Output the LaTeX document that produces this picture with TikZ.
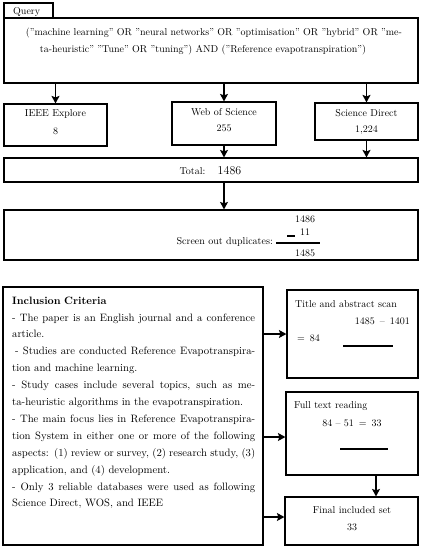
\documentclass[tikz,border=0pt]{standalone}
\usepackage{fontspec}
\usetikzlibrary{arrows.meta,calc}
\newcommand{\incline}[1]{\leavevmode{\spaceskip=0.33em plus 2em minus 0.12em\relax\hbox to 243pt{#1}}}
\begin{document}
\begin{tikzpicture}[x=1pt,y=-1pt,
  box/.style={draw=black, line width=1.2pt, inner sep=0pt},
  lbl/.style={inner sep=0pt, font=\fontsize{10}{12}\selectfont},
  arr/.style={line width=1.3pt, -{Stealth[length=7.5pt,width=8pt,inset=1.5pt]}},
  rulel/.style={line width=1.2pt}]
\useasboundingbox (0,0) rectangle (422,550);
% boxes
\node[box, minimum width=49pt, minimum height=15pt] (ql) at (28.5,10.5) {};
\node[box, minimum width=414pt, minimum height=65pt] (q) at (211,50.5) {};
\node[box, minimum width=103pt, minimum height=42pt] (ieee) at (55.5,125) {};
\node[box, minimum width=104pt, minimum height=43pt] (wos) at (224,123.5) {};
\node[box, minimum width=103pt, minimum height=37pt] (sd) at (366.5,121.5) {};
\node[box, minimum width=414pt, minimum height=24pt] (total) at (211,170) {};
\node[box, minimum width=414pt, minimum height=50pt] (dup) at (211,235) {};
\node[box, minimum width=260pt, minimum height=258pt] (inc) at (133,416) {};
\node[box, minimum width=131pt, minimum height=88pt] (title) at (352.5,334) {};
\node[box, minimum width=132pt, minimum height=83pt] (full) at (352,433.5) {};
\node[box, minimum width=133pt, minimum height=48pt] (final) at (351.5,521) {};
% texts
\node[lbl, anchor=west] (qt) at (13,12) {Query};
\node[lbl] (q1) at (214,33) {("machine learning" OR "neural networks" OR "optimisation" OR "hybrid" OR "me-};
\node[lbl] (q2) at (203,50) {ta-heuristic" "Tune" OR "tuning") AND ("Reference evapotranspiration")};
\node[lbl] (ieeet) at (55.5,114) {IEEE Explore};
\node[lbl] (ieeen) at (55.5,131) {8};
\node[lbl] (wost) at (224,112) {Web of Science};
\node[lbl] (wosn) at (224,128) {255};
\node[lbl] (sdt) at (366.5,113) {Science Direct};
\node[lbl] (sdn) at (366.5,130) {1,224};
\node[lbl] (tott) at (192.5,171) {Total:};
\node[lbl, font=\fontsize{12}{14}\selectfont] (totn) at (229.5,171) {1486};
\node[lbl, anchor=east] (dupt) at (273,242) {Screen out duplicates:};
\node[lbl] (d1) at (305,219) {1486};
\node[lbl] (d2) at (305,232) {11};
\node[inner sep=0pt] (dm) at (291,236) {\rule{8pt}{2.6pt}};
\node[lbl] (d3) at (305,253) {1485};
\draw[rulel] (276,243) -- (320,243);
\node[lbl, anchor=north west, text width=243pt, align=left,
      font=\fontsize{10.7}{16.9}\selectfont] (inct) at (12,296.5) {%
\textbf{Inclusion Criteria}\\
\incline{- The paper is an English journal and a conference}\\
article.\\
\incline{\hspace{3pt}- Studies are conducted Reference Evapotranspira-}\\
tion and machine learning.\\
\incline{- Study cases include several topics, such as me-}\\
ta-heuristic algorithms in the evapotranspiration.\\
\incline{- The main focus lies in Reference Evapotranspira-}\\
\incline{tion System in either one or more of the following}\\
\incline{aspects: (1) review or survey, (2) research study, (3)}\\
application, and (4) development.\\
\incline{- Only 3 reliable databases were used as following}\\
Science Direct, WOS, and IEEE};
\node[lbl, anchor=west] (tt) at (295,304) {Title and abstract scan};
\node[lbl, anchor=east] (t1) at (410,321) {1485 \,--\, 1401};
\node[lbl, anchor=west] (t2) at (297,338) {= \,84};
\draw[rulel] (343,346) -- (393,346);
\node[lbl, anchor=west] (ft) at (294,406) {Full text reading};
\node[lbl] (f1) at (352,423) {84 -- 51 \,= \,33};
\draw[rulel] (340,449) -- (388,449);
\node[lbl] (fit) at (352,510) {Final included set};
\node[lbl] (fin) at (352,527) {33};
% arrows
\coordinate (fs) at ($(full.south)+(24,0)$);
\draw[arr] (q.south -| ieee.north) -- (ieee.north);
\draw[arr] (q.south -| wos.north) -- (wos.north);
\draw[arr] (q.south -| sd.north) -- (sd.north);
\draw[arr] (wos.south) -- (wos.south |- total.north);
\draw[arr] (sd.south) -- (sd.south |- total.north);
\draw[arr] (total.south -| wos.south) -- (dup.north -| wos.south);
\draw[arr] (inc.east |- title.west) -- (title.west);
\draw[arr] ($(inc.east |- full.west)+(0,3.5)$) -- ($(full.west)+(0,3.5)$);
\draw[arr] ($(inc.east |- final.west)+(0,-4)$) -- ($(final.west)+(0,-4)$);
\draw[arr] (fs) -- (fs |- final.north);
\end{tikzpicture}
\end{document}
